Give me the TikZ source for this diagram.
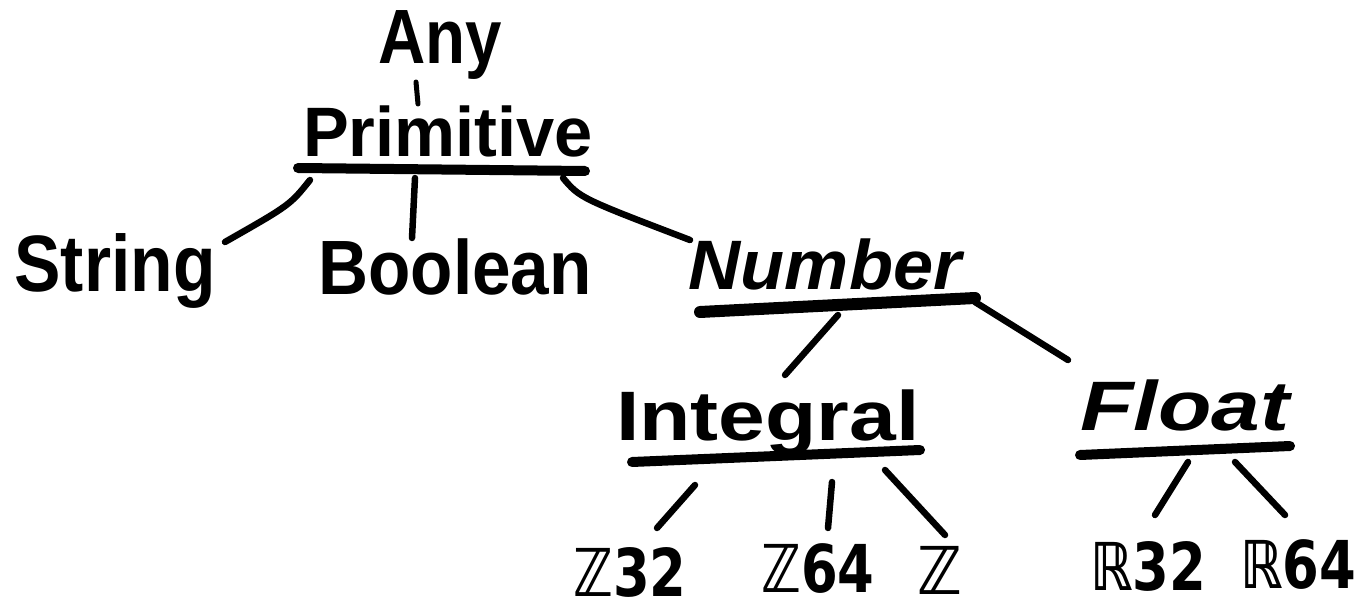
\documentclass[tikz,border=0pt]{standalone}
\usepackage{fontspec}
\setmainfont{Liberation Sans}
\newfontfamily\symfont{DejaVu Sans}
\begin{document}
\begin{tikzpicture}[x=1pt,y=-1pt,
  word/.style={inner sep=0pt, anchor=base, font=\bfseries\fontsize{70}{80}\selectfont},
  bigword/.style={word, font=\bfseries\fontsize{77}{86}\selectfont},
  setsym/.style={inner sep=0pt, anchor=base, font=\symfont\bfseries\fontsize{66}{74}\selectfont},
  bar/.style={line width=10pt, line cap=round},
  branch/.style={line width=6.5pt, line cap=round}]
\useasboundingbox (0,0) rectangle (1367,612);

% type names
\node[bigword] (any)  at (440,64)  {\scalebox{0.85}[1]{Any}};
\node[word] (prim) at (448,157) {\scalebox{0.98}[1]{Primitive}};
\node[bigword, font=\bfseries\fontsize{80}{90}\selectfont] (str) at (115,291) {\scalebox{0.87}[1]{String}};
\node[bigword] (bool) at (455,294) {\scalebox{0.9}[1]{Boolean}};
\node[word] (num)  at (825,289) {\scalebox{1.03}[1]{\itshape Number}};
\node[word] (int)  at (768,440) {\scalebox{1.2}[1]{Integral}};
\node[word] (flt)  at (1185,430) {\scalebox{1.25}[1]{\itshape Float}};
\node[setsym] (z32) at (630,596)  {\scalebox{0.8}[1]{ℤ32}};
\node[setsym] (z64) at (818,592)  {\scalebox{0.8}[1]{ℤ64}};
\node[setsym] (zz)  at (940,594)  {\scalebox{0.9}[1]{ℤ}};
\node[setsym] (r32) at (1148,590) {\scalebox{0.8}[1]{ℝ32}};
\node[setsym] (r64) at (1298,588) {\scalebox{0.8}[1]{ℝ64}};

% underline end points
\coordinate (prim-l) at (298,168);  \coordinate (prim-r) at (585,171);
\coordinate (num-l)  at (700,312);  \coordinate (num-r)  at (975,298);
\coordinate (int-l)  at (632,462);  \coordinate (int-r)  at (920,450);
\coordinate (flt-l)  at (1080,455); \coordinate (flt-r)  at (1290,446);

% branch end points
\coordinate (any-b)  at (416,82);   \coordinate (prim-t) at (418,104);
\coordinate (p-s)    at (310,180);  \coordinate (str-t)  at (225,242);
\coordinate (p-b)    at (415,178);  \coordinate (bool-t) at (412,238);
\coordinate (p-n)    at (563,178);  \coordinate (num-t)  at (690,240);
\coordinate (n-i)    at (838,315);  \coordinate (int-t)  at (785,375);
\coordinate (n-f)    at (975,302);  \coordinate (flt-t)  at (1068,360);
\coordinate (i-32)   at (695,485);  \coordinate (z32-t)  at (657,528);
\coordinate (i-64)   at (832,482);  \coordinate (z64-t)  at (828,528);
\coordinate (i-z)    at (885,470);  \coordinate (zz-t)   at (945,535);
\coordinate (f-32)   at (1188,462); \coordinate (r32-t)  at (1155,515);
\coordinate (f-64)   at (1235,462); \coordinate (r64-t)  at (1285,515);

% underlines
\draw[bar] (prim-l) -- (prim-r);
\draw[bar, line width=12pt] (num-l) -- (num-r);
\draw[bar] (int-l) -- (int-r);
\draw[bar] (flt-l) -- (flt-r);

% tree branches
\draw[branch, line width=5pt] (any-b) -- (prim-t);
\draw[branch] (p-s) .. controls (290,205) .. (str-t);
\draw[branch] (p-b) -- (bool-t);
\draw[branch] (p-n) .. controls (580,198) .. (num-t);
\draw[branch] (n-i) -- (int-t);
\draw[branch] (n-f) -- (flt-t);
\draw[branch] (i-32) -- (z32-t);
\draw[branch] (i-64) -- (z64-t);
\draw[branch] (i-z) -- (zz-t);
\draw[branch] (f-32) -- (r32-t);
\draw[branch] (f-64) -- (r64-t);
\end{tikzpicture}
\end{document}
